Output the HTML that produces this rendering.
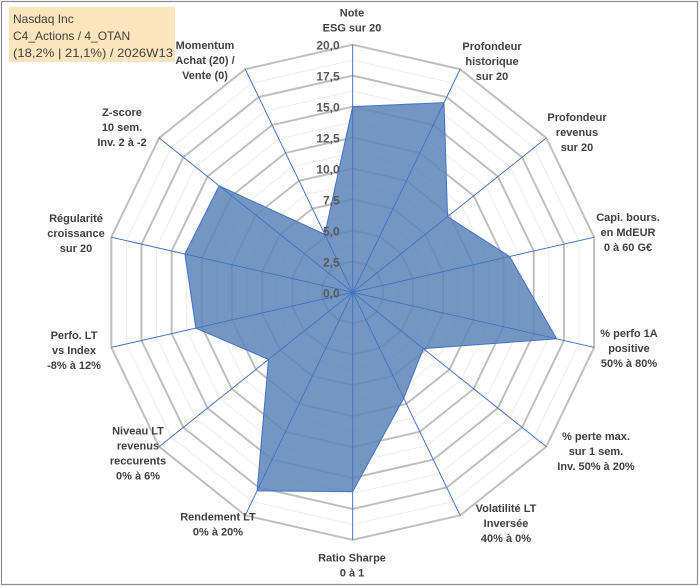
<!DOCTYPE html>
<html><head><meta charset="utf-8"><style>
html,body{margin:0;padding:0;background:#fff;}
svg{display:block;font-family:"Liberation Sans",Arial,sans-serif;}
.lbl{font-size:11px;font-weight:bold;fill:#404040;text-anchor:middle;}
.tick{font-size:12px;font-weight:bold;fill:#595959;text-anchor:end;}
</style></head><body>
<svg id="chart" width="700" height="587" viewBox="0 0 700 587">
<rect x="1.5" y="1.5" width="696" height="583" fill="#fff" stroke="#8c8c8c" stroke-width="1.2"/>
<g id="grid"></g>
<g id="spokes"></g>
<g id="series"></g>
<g id="ticks"></g>
<g id="labels"></g>
<rect x="9" y="7" width="166" height="55" fill="#fce4bc"/>
<text x="13" y="23" font-size="12" fill="#404040">Nasdaq Inc</text>
<text x="13" y="40" font-size="12" fill="#404040">C4_Actions / 4_OTAN</text>
<text x="13" y="57" font-size="12" fill="#404040" textLength="160" lengthAdjust="spacingAndGlyphs">(18,2% | 21,1%) / 2026W13</text>
</svg>
<script>
const categories = [
 ["Note","ESG sur 20"],
 ["Profondeur","historique","sur 20"],
 ["Profondeur","revenus","sur 20"],
 ["Capi. bours.","en MdEUR","0 à 60 G€"],
 ["% perfo 1A","positive","50% à 80%"],
 ["% perte max.","sur 1 sem.","Inv. 50% à 20%"],
 ["Volatilité LT","Inversée","40% à 0%"],
 ["Ratio Sharpe","0 à 1"],
 ["Rendement LT","0% à 20%"],
 ["Niveau LT","revenus","reccurents","0% à 6%"],
 ["Perfo. LT","vs Index","-8% à 12%"],
 ["Régularité","croissance","sur 20"],
 ["Z-score","10 sem.","Inv. 2 à -2"],
 ["Momentum","Achat (20) /","Vente (0)"]
];
const values = [15.0, 17.0, 9.8, 13.0, 16.9, 7.3, 9.5, 16.1, 17.8, 8.7, 13.0, 13.9, 13.8, 5.2];
const tickValues = [0, 2.5, 5, 7.5, 10, 12.5, 15, 17.5, 20];
const tickLabels = ["0,0","2,5","5,0","7,5","10,0","12,5","15,0","17,5","20,0"];

const NS="http://www.w3.org/2000/svg";
const cx=352.7, cy=292.3, R=247.6, maxV=20, N=categories.length;
const labelPos=[[352,20],[492,61],[577,132],[628,232],[629,348],[596,451],[506,523],[352,565],[218,524],[138,453],[74,350],[76,233],[122,127],[205,60]];
function ang(i){return 2*Math.PI*i/N;}
function pt(i,v){const r=v/maxV*R;return [cx+r*Math.sin(ang(i)), cy-r*Math.cos(ang(i))];}
function mk(tag,attrs,parent){const e=document.createElementNS(NS,tag);for(const k in attrs)e.setAttribute(k,attrs[k]);parent.appendChild(e);return e;}

const grid=document.getElementById('grid');
for(let v=1.25; v<=20.001; v+=1.25){
  const major=Math.abs(v/2.5-Math.round(v/2.5))<1e-6;
  const pts=[];for(let i=0;i<N;i++)pts.push(pt(i,v).join(','));
  const p=mk('polygon',{points:pts.join(' '),fill:'none',stroke:major?'#bfbfbf':'#ececec','stroke-width':major?2:1},grid);
  
  
}
const spokes=document.getElementById('spokes');
for(let i=0;i<N;i++){
  const e=pt(i,maxV);
  const l=mk('line',{x1:cx,y1:cy,x2:e[0],y2:e[1],stroke:'#4472c4','stroke-width':0.8},spokes);
  
  
}
const series=document.getElementById('series');
const sp=values.map((v,i)=>pt(i,v).join(',')).join(' ');
const poly=mk('polygon',{points:sp,fill:'#5b84b8','fill-opacity':0.85,stroke:'#4472c4','stroke-width':1},series);


for(let i=0;i<N;i++){
  const e=pt(i,maxV);
  const l=mk('line',{x1:cx,y1:cy,x2:e[0],y2:e[1],stroke:'#4472c4','stroke-width':0.8},series);
  
  
}
const ticks=document.getElementById('ticks');
tickValues.forEach((v,k)=>{
  const y=cy-v/maxV*R;
  const t=mk('text',{x:cx-13,y:y+5,class:'tick'},ticks);
  t.textContent=tickLabels[k];
  
  
});
const labels=document.getElementById('labels');
categories.forEach((lines,i)=>{
  const x=labelPos[i][0], y=labelPos[i][1];
  const lh=15, y0=y-(lines.length-1)*lh/2+4;
  const t=mk('text',{class:'lbl'},labels);
  
  
  lines.forEach((s,k)=>{const ts=mk('tspan',{x:x,y:y0+k*lh},t);ts.textContent=s;});
});
</script>
</body></html>
